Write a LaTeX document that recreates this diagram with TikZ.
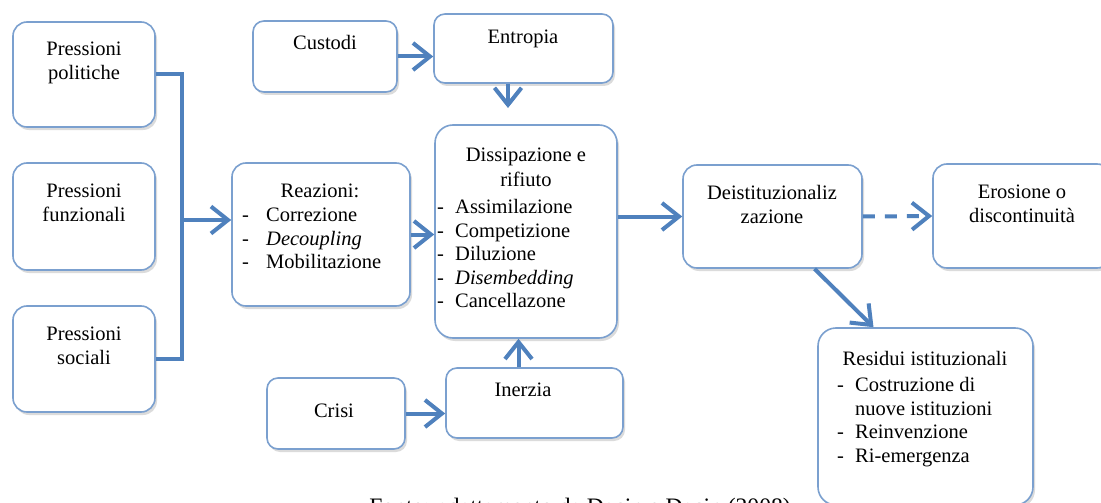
\documentclass[tikz,border=0pt]{standalone}
\usepackage{fontspec}
\setmainfont{Liberation Serif}
\usetikzlibrary{arrows.meta,shadows}
\definecolor{boxc}{HTML}{7BA0CF}
\definecolor{arrc}{HTML}{4F81BD}
\begin{document}
\begin{tikzpicture}[x=1pt,y=-1pt,
  box/.style={draw=boxc, line width=1.6pt, fill=white, rounded corners=14pt, inner sep=0pt,
    drop shadow={shadow xshift=2pt,shadow yshift=-3pt,opacity=0.28}},
  txt/.style={font=\fontsize{20.5}{23.6}\selectfont, align=center, inner sep=0pt, anchor=north},
  lst/.style={font=\fontsize{20.5}{23.6}\selectfont, align=left, inner sep=0pt, anchor=north west},
  arr/.style={draw=arrc, line width=4pt, -{Straight Barb[length=17pt,width=27pt]}},
  link/.style={draw=arrc, line width=4pt},
]
\useasboundingbox (0,0) rectangle (1101,503);
\clip (0,0) rectangle (1101,503);
\fill[white] (0,0) rectangle (1101,503);

% boxes
\node[box, minimum width=142pt, minimum height=105pt] (pp) at (84,74.5) {};
\node[box, minimum width=142pt, minimum height=107pt] (pf) at (84,216.5) {};
\node[box, minimum width=142pt, minimum height=106pt] (ps) at (84,359) {};
\node[box, minimum width=178pt, minimum height=143pt] (rz) at (321,234.5) {};
\node[box, minimum width=144pt, minimum height=71pt, rounded corners=11pt] (cu) at (325,56.5) {};
\node[box, minimum width=179pt, minimum height=69pt, rounded corners=11pt] (en) at (523.5,48.5) {};
\node[box, minimum width=182pt, minimum height=213pt, rounded corners=18pt] (ds) at (526,231.5) {};
\node[box, minimum width=177pt, minimum height=70pt, rounded corners=11pt] (in) at (534.5,403) {};
\node[box, minimum width=138pt, minimum height=71pt, rounded corners=11pt] (cr) at (336,413.5) {};
\node[box, minimum width=179pt, minimum height=103pt] (de) at (772.5,216.5) {};
\node[box, minimum width=178pt, minimum height=104pt] (er) at (1022,216) {};
\node[box, minimum width=215pt, minimum height=177pt, rounded corners=18pt] (re) at (925.5,416.5) {};

% texts
\node[txt] (ppt) at (84,42) {Pressioni\\politiche};
\node[txt] (pft) at (84,184) {Pressioni\\funzionali};
\node[txt] (pst) at (84,327) {Pressioni\\sociali};
\node[txt] (rzt) at (320,184) {Reazioni:};
\node[lst] (rzl) at (242,208) {\makebox[24pt][l]{-}Correzione\\\makebox[24pt][l]{-}\textit{Decoupling}\\\makebox[24pt][l]{-}Mobilitazione};
\node[txt] (cut) at (325,35) {Custodi};
\node[txt] (ent) at (523,30) {Entropia};
\node[txt] (dst) at (526,148) {Dissipazione e\\[1.5pt]rifiuto};
\node[lst] (dsl) at (437,199) {\makebox[18pt][l]{-}Assimilazione\\\makebox[18pt][l]{-}Competizione\\\makebox[18pt][l]{-}Diluzione\\\makebox[18pt][l]{-}\textit{Disembedding}\\\makebox[18pt][l]{-}Cancellazone};
\node[txt] (int) at (523,383) {Inerzia};
\node[txt] (crt) at (334,404) {Crisi};
\node[txt] (det) at (772,185) {Deistituzionaliz\\zazione};
\node[txt] (ert) at (1022,185) {Erosione o\\discontinuità};
\node[txt] (ret) at (925,351) {Residui istituzionali};
\node[lst] (rel) at (837,377) {\makebox[18pt][l]{-}Costruzione di\\\makebox[18pt][l]{}nuove istituzioni\\\makebox[18pt][l]{-}Reinvenzione\\\makebox[18pt][l]{-}Ri-emergenza};

% caption (cut by the page edge, as in the reference)
\node[font=\fontsize{23.6}{28}\selectfont, inner sep=0pt, anchor=base] (cap) at (580,514) {Fonte: adattamento da Dacin e Dacin (2008)};

% connectors
\coordinate (br) at (182,220);
\coordinate (enD) at (508,108);
\draw[link, line join=miter] (pp.east) -| (br) |- (ps.east);
\draw[arr] (br) -- (br -| rz.west);
\draw[arr] (rz.east) -- (rz.east -| ds.west);
\draw[arr] (cu.east) -- (cu.east -| en.west);
\draw[arr] (en.south -| enD) -- (enD);
\draw[arr] ([xshift=-16pt]in.north) -- ([xshift=-16pt]in.north |- ds.south);
\draw[arr] (cr.east) -- (cr.east -| in.west);
\draw[arr] (ds.east |- de.west) -- (de.west);
\draw[arr, dash pattern=on 12pt off 10pt] (de.east) -- (er.west);
\draw[arr] ([xshift=42pt]de.south) -- ([xshift=-52pt]re.north);
\end{tikzpicture}
\end{document}
